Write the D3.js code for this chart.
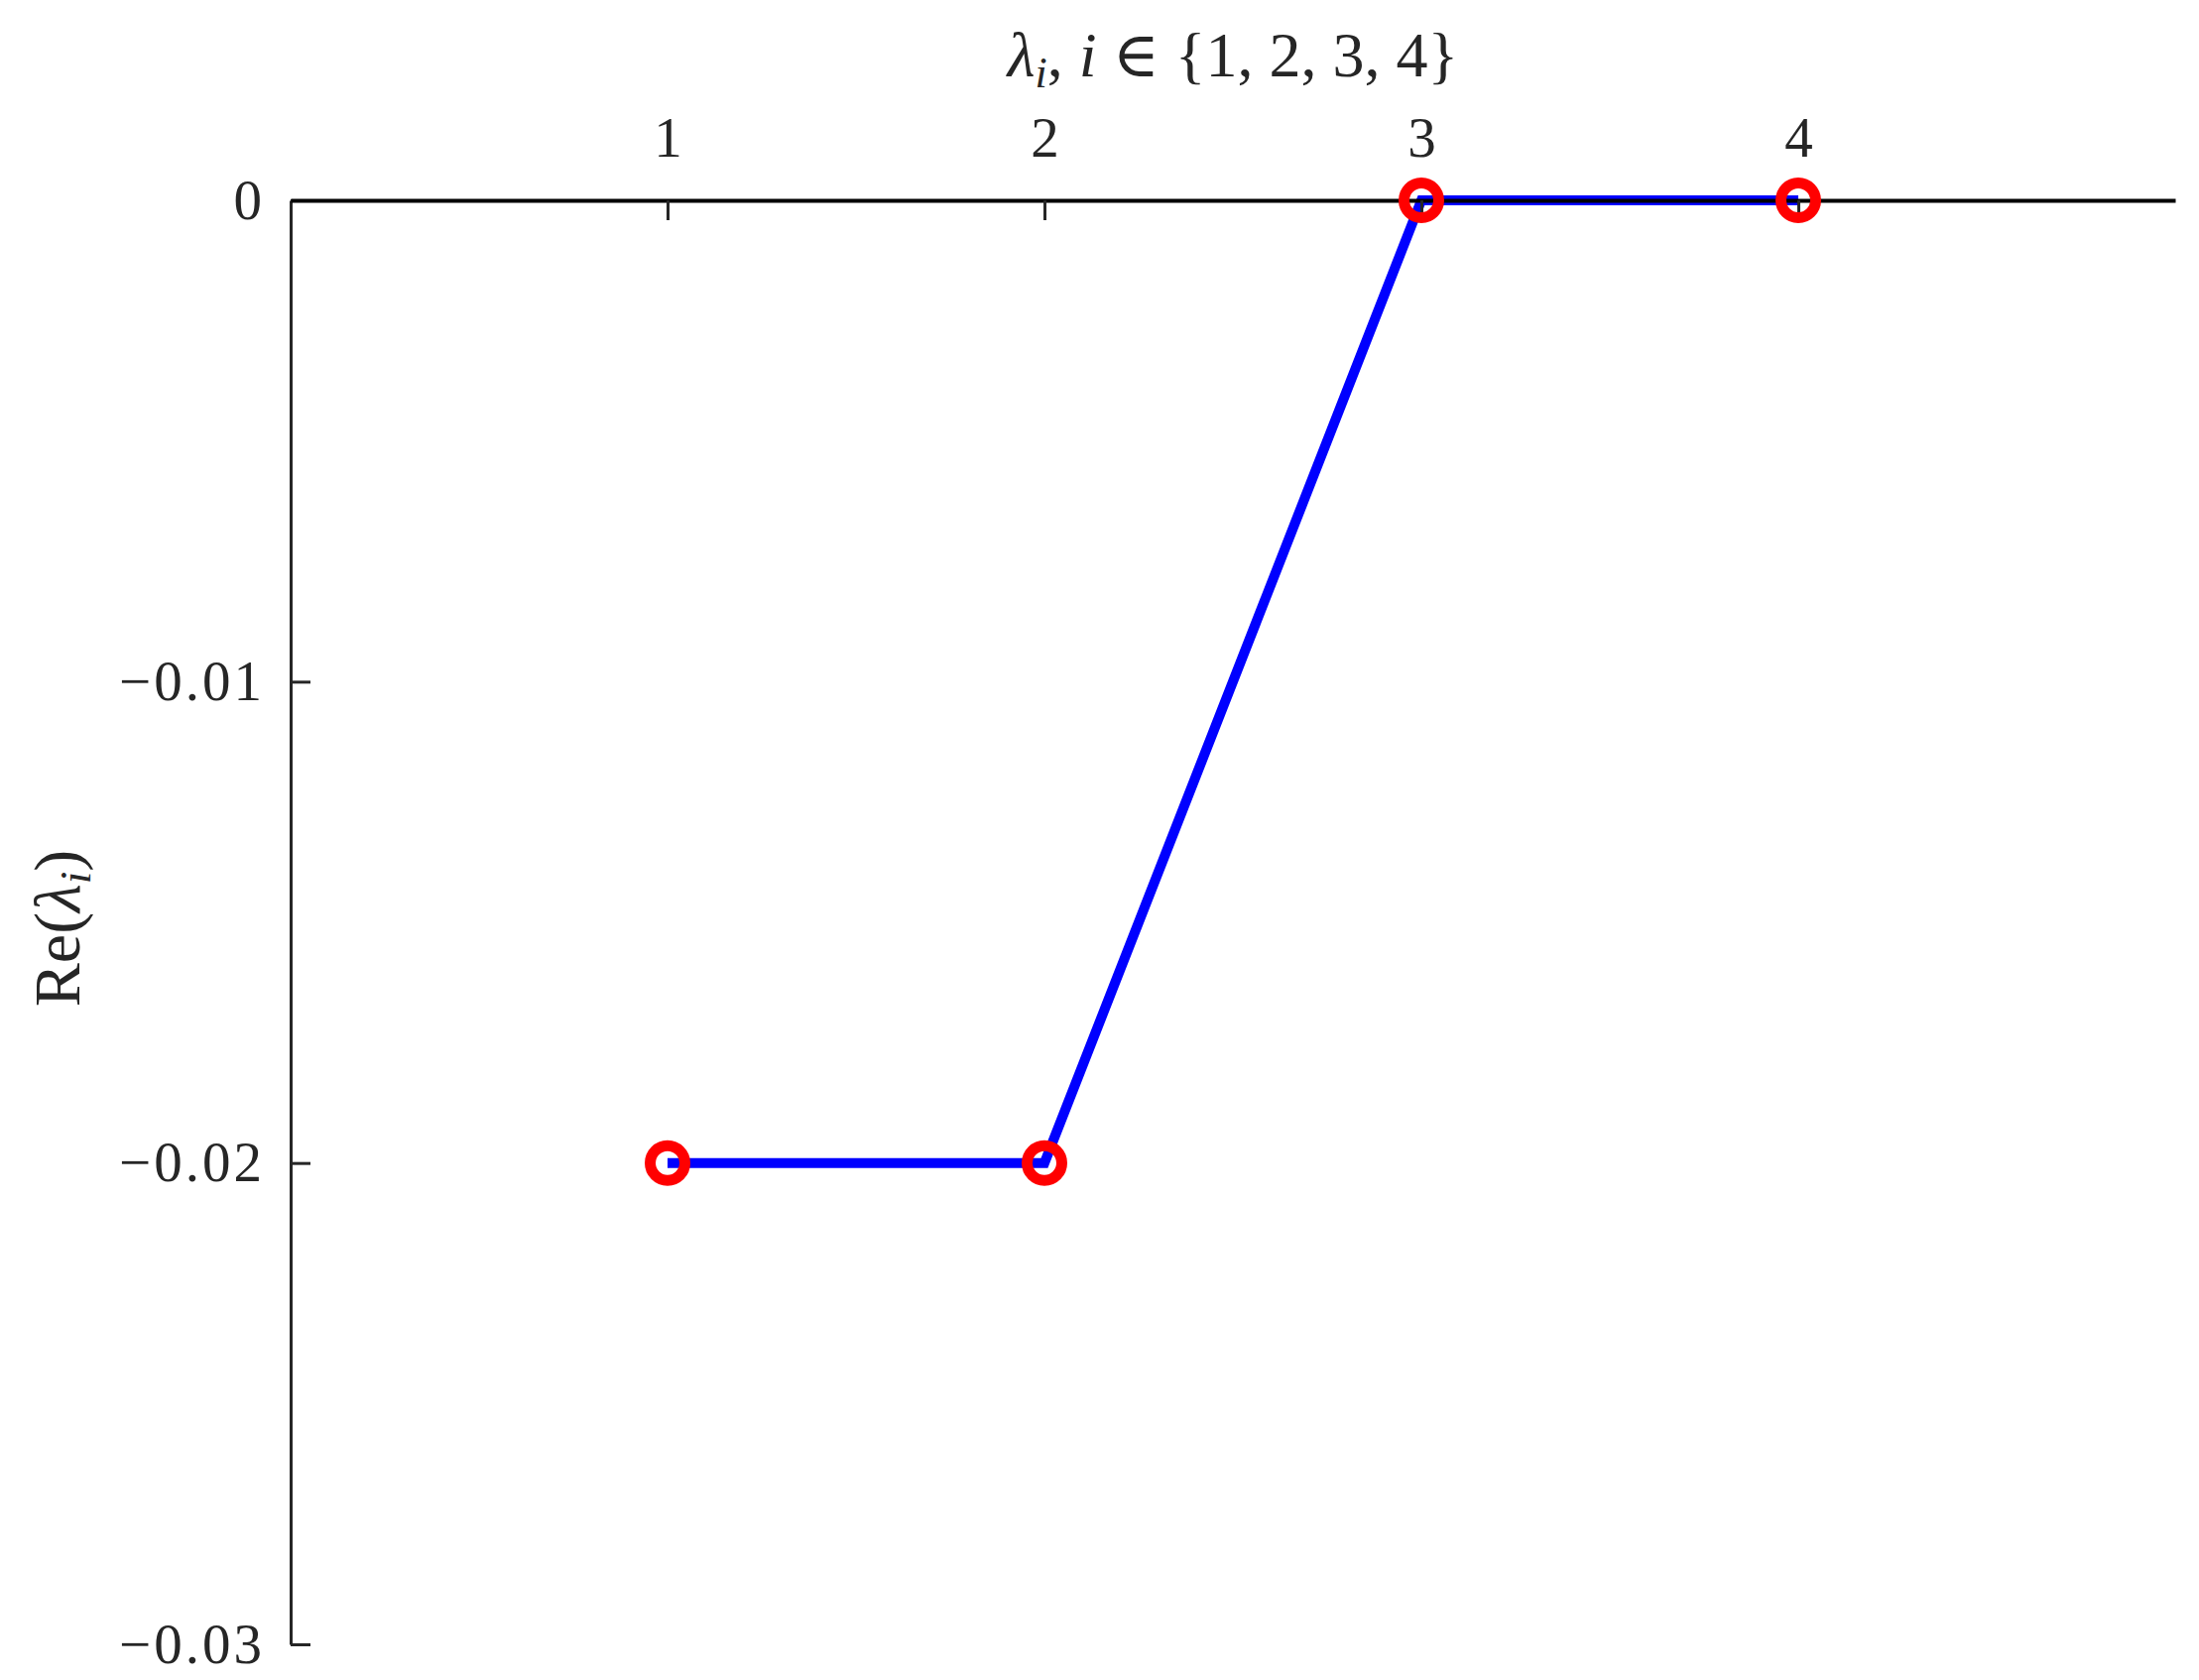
<!DOCTYPE html>
<html>
<head>
<meta charset="utf-8">
<script src="https://cdn.jsdelivr.net/npm/d3@7"></script>
<style>
  body { margin: 0; background: #fff; }
  text { font-family: "Liberation Serif", "DejaVu Serif", serif; fill: #262626; }
</style>
</head>
<body>
<div class="container"></div>
<script>
// eigenvalue index and real parts
let idx = [1, 2, 3, 4];
let reVals = [-0.02, -0.02, 0, 0];
let xTicks = [1, 2, 3, 4];
let yTicks = [0, -0.01, -0.02, -0.03];

let margin = {top: 202, right: 24, bottom: 36, left: 293},
  width = 2217 - margin.left - margin.right,
  height = 1694 - margin.top - margin.bottom;

let svg = d3.select(".container").append("svg")
    .attr("width", 2217)
    .attr("height", 1694)
  .append("g")
    .attr("transform", "translate(" + margin.left + "," + margin.top + ")");

let x = d3.scaleLinear().domain([0, 5]).range([0, 1900]);
let y = d3.scaleLinear().domain([0, -0.03]).range([0, 1456]);

let fmt = v => v === 0 ? "0" : "\u2212" + Math.abs(v).toFixed(2);

// y axis (left)
let yAx = svg.append("g")
  .call(d3.axisLeft(y).tickValues(yTicks).tickFormat(fmt)
    .tickSizeInner(-20).tickSizeOuter(0).tickPadding(26));
yAx.select(".domain").attr("stroke", "#262626").attr("stroke-width", 3);
yAx.selectAll(".tick line").attr("stroke", "#262626").attr("stroke-width", 3);
yAx.selectAll("text").attr("font-size", 57).attr("fill", "#262626")
  .attr("letter-spacing", 3)
  .attr("font-family", "Liberation Serif");

// blue line drawn under the zero line
let line = d3.line().x((d, i) => x(idx[i])).y(d => y(d));
svg.append("path")
  .datum(reVals)
  .attr("d", line)
  .attr("fill", "none")
  .attr("stroke", "#0000ff")
  .attr("stroke-width", 10)
  .attr("stroke-linejoin", "miter");

// x axis at top
let xAx = svg.append("g")
  .call(d3.axisTop(x).tickValues(xTicks).tickFormat(d3.format("d"))
    .tickSizeInner(-20).tickSizeOuter(0).tickPadding(44));
xAx.select(".domain").attr("stroke", "#000").attr("stroke-width", 4);
xAx.selectAll(".tick line").attr("stroke", "#262626").attr("stroke-width", 3);
xAx.selectAll("text").attr("font-size", 57).attr("fill", "#262626")
  .attr("font-family", "Liberation Serif");

// markers
svg.selectAll(".mk")
  .data(reVals)
  .enter().append("circle")
    .attr("class", "mk")
    .attr("cx", (d, i) => x(idx[i]))
    .attr("cy", d => y(d))
    .attr("r", 17.5)
    .attr("fill", "none")
    .attr("stroke", "#ff0000")
    .attr("stroke-width", 11);

// title
let title = svg.append("text")
  .attr("x", x(2.5))
  .attr("y", 77 - margin.top)
  .attr("text-anchor", "middle")
  .attr("font-size", 64);
title.append("tspan").attr("font-style", "italic").text("\u03bb");
title.append("tspan").attr("font-style", "italic").attr("font-size", 44).attr("dy", 11).text("i");
title.append("tspan").attr("dy", -11).text(", ");
title.append("tspan").attr("font-style", "italic").text("i");
title.append("tspan").text(" \u2208 {1, 2, 3, 4}");

// y label
let ylab = svg.append("text")
  .attr("transform", "translate(" + (80 - margin.left) + "," + (936 - margin.top) + ") rotate(-90)")
  .attr("text-anchor", "middle")
  .attr("font-size", 66);
ylab.append("tspan").text("Re(");
ylab.append("tspan").attr("font-style", "italic").text("\u03bb");
ylab.append("tspan").attr("font-style", "italic").attr("font-size", 45).attr("dy", 11).text("i");
ylab.append("tspan").attr("dy", -11).text(")");
</script>
</body>
</html>
